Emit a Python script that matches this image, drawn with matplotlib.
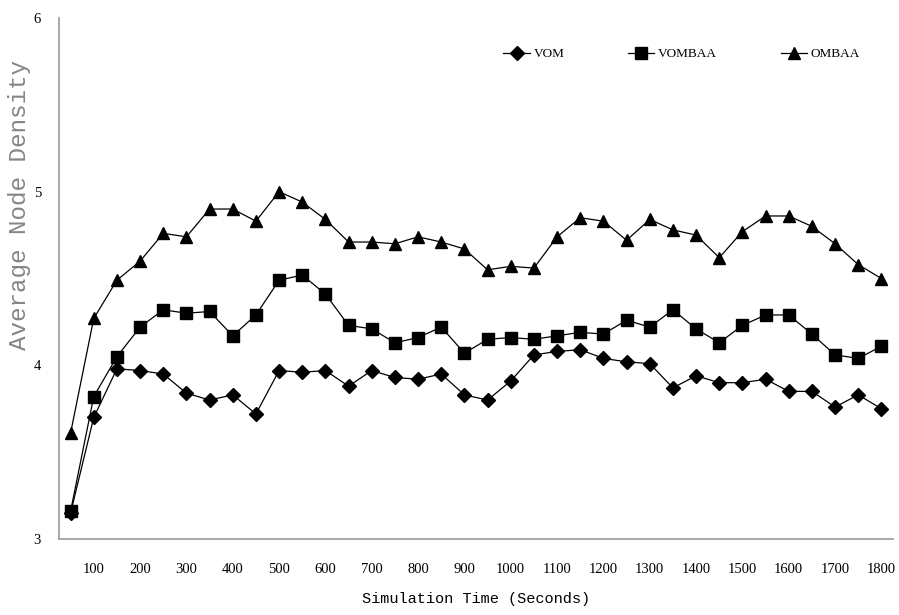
import numpy as np
import matplotlib.pyplot as plt

# simulation time (s) and average node density for each scheme
times = np.arange(50, 1801, 50)

vom = [3.15, 3.70, 3.98, 3.97, 3.95, 3.84, 3.80, 3.83, 3.72, 3.97,
       3.96, 3.97, 3.88, 3.97, 3.93, 3.92, 3.95, 3.83, 3.80, 3.91,
       4.06, 4.08, 4.09, 4.04, 4.02, 4.01, 3.87, 3.94, 3.90, 3.90,
       3.92, 3.85, 3.85, 3.76, 3.83, 3.75]

vombaa = [3.16, 3.82, 4.05, 4.22, 4.32, 4.30, 4.31, 4.17, 4.29, 4.49,
          4.52, 4.41, 4.23, 4.21, 4.13, 4.16, 4.22, 4.07, 4.15, 4.16,
          4.15, 4.17, 4.19, 4.18, 4.26, 4.22, 4.32, 4.21, 4.13, 4.23,
          4.29, 4.29, 4.18, 4.06, 4.04, 4.11]

ombaa = [3.61, 4.27, 4.49, 4.60, 4.76, 4.74, 4.90, 4.90, 4.83, 5.00,
         4.94, 4.84, 4.71, 4.71, 4.70, 4.74, 4.71, 4.67, 4.55, 4.57,
         4.56, 4.74, 4.85, 4.83, 4.72, 4.84, 4.78, 4.75, 4.62, 4.77,
         4.86, 4.86, 4.80, 4.70, 4.58, 4.50]

xticks = np.arange(100, 1801, 100)
yticks = [3, 4, 5, 6]

fig = plt.figure(figsize=(8.99, 6.15), dpi=100)
ax = fig.add_axes([59 / 899, 1 - 539 / 615, 834 / 899, 521 / 615])

ax.plot(times, vom, color='black', lw=0.9, marker='D', ms=7.5, label='VOM')
ax.plot(times, vombaa, color='black', lw=0.9, marker='s', ms=8.5, label='VOMBAA')
ax.plot(times, ombaa, color='black', lw=0.9, marker='^', ms=9, label='OMBAA')

ax.set_xlim(25, 1825)
ax.set_ylim(3, 6)
ax.set_xticks(xticks)
ax.set_yticks(yticks)
ax.tick_params(length=0, labelsize=10.5)
ax.tick_params(axis='x', pad=17)
ax.tick_params(axis='y', pad=13)
for lbl in ax.get_xticklabels() + ax.get_yticklabels():
    lbl.set_family('Liberation Serif')

for side in ['top', 'right']:
    ax.spines[side].set_visible(False)
for side in ['left', 'bottom']:
    ax.spines[side].set_color('#9a9a9a')
    ax.spines[side].set_linewidth(1.2)

ax.set_xlabel('Simulation Time (Seconds)', family='Liberation Mono',
              fontsize=11, labelpad=12)
fig.text(20 / 899, 1 - 205 / 615, 'Average Node Density', rotation=90,
         family='Liberation Mono', fontsize=17.5, color='#858585',
         ha='center', va='center')

ax.legend(loc='upper right', bbox_to_anchor=(0.975, 0.965), ncol=3,
          frameon=False, handlelength=2.0, handletextpad=0.3,
          columnspacing=4.8, prop={'family': 'Liberation Serif', 'size': 9.5})

fig.savefig('out.png', dpi=100)
